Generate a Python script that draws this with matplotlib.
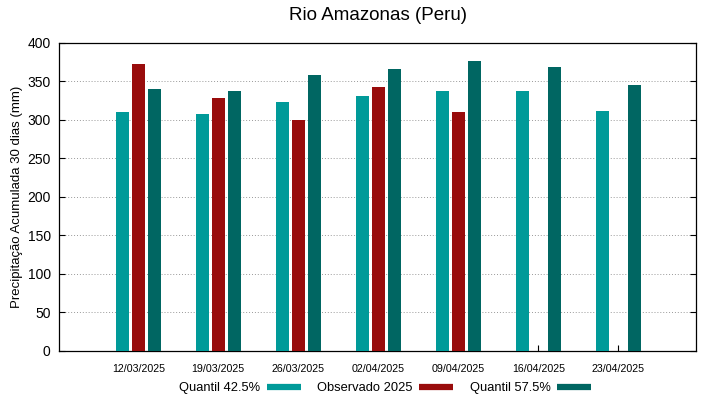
import numpy as np
import matplotlib
matplotlib.use("Agg")
from matplotlib import pyplot as plt
from matplotlib.lines import Line2D

plt.rcParams['font.family'] = ['Liberation Sans', 'DejaVu Sans']

# data
dates = ['12/03/2025', '19/03/2025', '26/03/2025', '02/04/2025',
         '09/04/2025', '16/04/2025', '23/04/2025']
quantil_425 = [310, 307, 323, 331, 338, 337, 312]
observado = [373, 328, 300, 343, 310, np.nan, np.nan]
quantil_575 = [340, 338, 358, 366, 376, 369, 345]

color_q1 = '#009a99'
color_obs = '#990c0c'
color_q2 = '#006662'

fig = plt.figure(figsize=(7.19, 3.99), dpi=100)
ax = fig.add_axes([59/719, 1 - 350.5/399, 637/719, 307.5/399])

x = np.arange(len(dates))
width = 0.16
ax.bar(x - 0.2, quantil_425, width, color=color_q1, zorder=3)
ax.bar(x, observado, width, color=color_obs, zorder=3)
ax.bar(x + 0.2, quantil_575, width, color=color_q2, zorder=3)

ax.set_xlim(-0.99, 6.97)
ax.set_ylim(0, 400)
ax.set_yticks(np.arange(0, 401, 50))
ax.set_xticks(x)
ax.set_xticklabels(dates, fontsize=7.7)
ax.tick_params(axis='y', labelsize=10, direction='in', length=4, right=True, pad=6)
ax.tick_params(axis='x', direction='in', length=4, top=False, pad=10)
ax.grid(axis='y', color='#999999', linestyle=(0, (1, 2)), linewidth=0.7, zorder=0)
for spine in ax.spines.values():
    spine.set_linewidth(0.9)

ax.set_ylabel('Precipitação Acumulada 30 dias (mm)', fontsize=9.5, labelpad=3)
fig.text(378/719, 1 - 16/399, 'Rio Amazonas (Peru)', fontsize=13.5,
         ha='center', va='center')

handles = [Line2D([0], [0], color=c, linewidth=4.5, solid_capstyle='butt')
           for c in (color_q1, color_obs, color_q2)]
labels = ['Quantil 42.5%', 'Observado 2025', 'Quantil 57.5%']
fig.legend(handles, labels, loc='center', bbox_to_anchor=(385/719, 1 - 388/399),
           ncol=3, frameon=False, markerfirst=False, fontsize=9.3,
           handlelength=2.6, columnspacing=1.3, handletextpad=0.5)

fig.savefig('out.png', dpi=100)
